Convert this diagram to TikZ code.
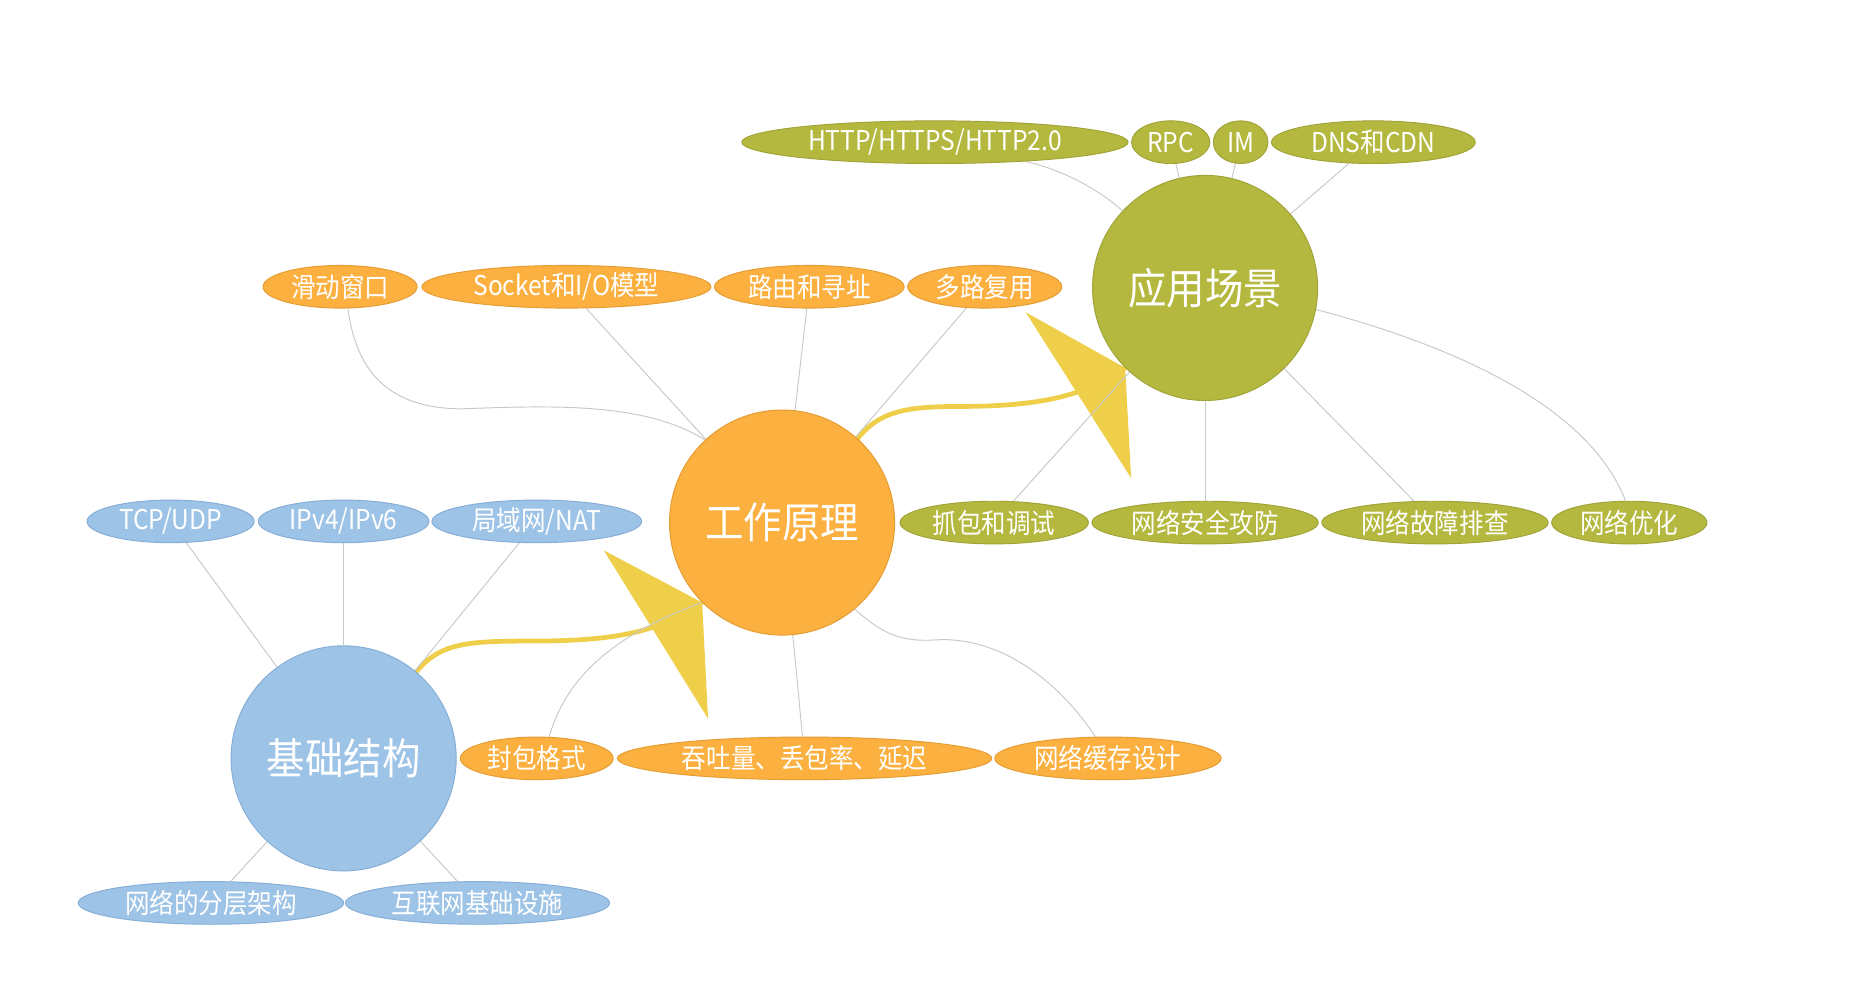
\documentclass[tikz,border=0pt]{standalone}
\usepackage{fontspec}
\setmainfont{Noto Sans CJK SC}[FakeStretch=0.9]
\usetikzlibrary{shapes.geometric,backgrounds,calc}
\definecolor{cApp}{HTML}{B5B83E}
\definecolor{cAppD}{HTML}{9FA338}
\definecolor{cWork}{HTML}{FBB040}
\definecolor{cWorkD}{HTML}{E49C33}
\definecolor{cBase}{HTML}{9DC3E6}
\definecolor{cBaseD}{HTML}{86ADD6}
\definecolor{cFlow}{HTML}{EFCF4A}
\definecolor{cLink}{HTML}{C8C8C8}
\tikzset{
  leaf/.style={ellipse, inner sep=0pt, minimum height=36pt, text=white,
    font=\fontsize{23}{23}\selectfont, line width=0.8pt},
  hub/.style={circle, inner sep=0pt, minimum size=190pt, text=white,
    font=\fontsize{36}{36}\selectfont, line width=0.8pt},
  apc/.style={fill=cApp, draw=cAppD},
  wkc/.style={fill=cWork, draw=cWorkD},
  bsc/.style={fill=cBase, draw=cBaseD},
  link/.style={draw=cLink, line width=0.8pt},
  flow/.style={draw=cFlow, line width=4pt, line cap=round},
}
\begin{document}
\begin{tikzpicture}[x=1pt,y=-1pt]
\useasboundingbox (0,0) rectangle (1568,829);
% application
\node[hub,apc] (app) at (1017,243) {应用场景};
\node[leaf,apc,minimum width=326pt] (http) at (789,120) {HTTP/HTTPS/HTTP2.0};
\node[leaf,apc,minimum width=66pt] (rpc) at (988,120) {RPC};
\node[leaf,apc,minimum width=46pt] (im) at (1047,120) {IM};
\node[leaf,apc,minimum width=172pt] (dns) at (1159,120) {DNS和CDN};
\node[leaf,apc,minimum width=159pt] (cap) at (839,441) {抓包和调试};
\node[leaf,apc,minimum width=191pt] (sec) at (1017,441) {网络安全攻防};
\node[leaf,apc,minimum width=191pt] (trb) at (1211,441) {网络故障排查};
\node[leaf,apc,minimum width=131pt] (opt) at (1375,441) {网络优化};
% working principle
\node[hub,wkc] (work) at (660,441) {工作原理};
\node[leaf,wkc,minimum width=130pt] (slide) at (287,242) {滑动窗口};
\node[leaf,wkc,minimum width=244pt] (sock) at (478,242) {Socket和I/O模型};
\node[leaf,wkc,minimum width=160pt] (route) at (683,242) {路由和寻址};
\node[leaf,wkc,minimum width=130pt] (mux) at (831,242) {多路复用};
\node[leaf,wkc,minimum width=129pt] (pkt) at (453,640) {封包格式};
\node[leaf,wkc,minimum width=316pt] (perf) at (679,640) {吞吐量、丢包率、延迟};
\node[leaf,wkc,minimum width=191pt] (cache) at (935,640) {网络缓存设计};
% base
\node[hub,bsc] (base) at (290,640) {基础结构};
\node[leaf,bsc,minimum width=141pt] (tcp) at (144,440) {TCP/UDP};
\node[leaf,bsc,minimum width=144pt] (ip) at (290,440) {IPv4/IPv6};
\node[leaf,bsc,minimum width=177pt] (lan) at (453,440) {局域网/NAT};
\node[leaf,bsc,minimum width=224pt] (layer) at (178,762) {网络的分层架构};
\node[leaf,bsc,minimum width=223pt] (infra) at (403,762) {互联网基础设施};

\begin{scope}[on background layer]
\fill[white] (0,0) rectangle (1568,829);
% yellow flows
\draw[flow] (base.50) .. controls (372,542) and (395,541) .. (450,541)
  .. controls (530,541) and (560,530) .. (work.225);
\fill[cFlow] ($(work.225)+(-83,-44)$) -- (work.225) -- ($(work.225)+(5,98)$) -- cycle;
\draw[flow] (work.48) .. controls (742,347) and (765,343) .. (810,343)
  .. controls (890,343) and (920,330) .. (app.225);
\fill[cFlow] ($(app.225)+(-84,-47)$) -- (app.225) -- ($(app.225)+(5,93)$) -- cycle;
% application links
\draw[link] (http.-12) .. controls (895,143) and (925,158) .. (app.137);
\draw[link] (rpc) -- (app);
\draw[link] (im) -- (app);
\draw[link] (dns) -- (app);
\draw[link] (cap) -- (app);
\draw[link] (sec) -- (app);
\draw[link] (trb) -- (app);
\draw[link] (app.-11) .. controls (1220,290) and (1340,340) .. (opt.100);
% work links
\draw[link] (slide.-70) .. controls (300,310) and (325,345) .. (390,345)
  .. controls (470,342) and (545,340) .. (work.133);
\draw[link] (sock) -- (work);
\draw[link] (route) -- (work);
\draw[link] (mux) -- (work);
\draw[link] (pkt.60) .. controls (478,570) and (520,535) .. (work.225);
\draw[link] (perf) -- (work);
\draw[link] (work.-50) .. controls (745,535) and (760,542) .. (790,540)
  .. controls (840,537) and (890,570) .. (cache.120);
% base links
\draw[link] (tcp) -- (base);
\draw[link] (ip) -- (base);
\draw[link] (lan) -- (base);
\draw[link] (layer) -- (base);
\draw[link] (infra) -- (base);
\end{scope}
\end{tikzpicture}
\end{document}
